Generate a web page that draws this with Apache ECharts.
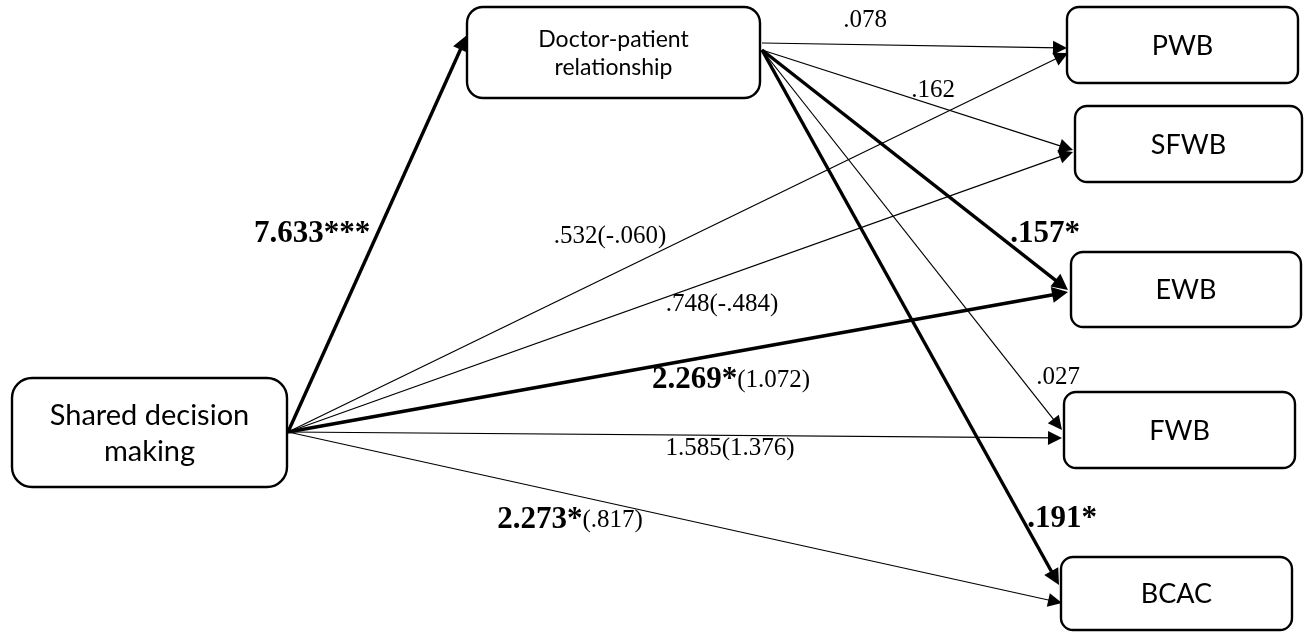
<!DOCTYPE html>
<html>
<head>
<meta charset="utf-8">
<script src="https://cdn.jsdelivr.net/npm/echarts@6/dist/echarts.min.js"></script>
<style>
html,body{margin:0;padding:0;background:#fff;}
#chart{width:1304px;height:632px;}
</style>
</head>
<body>
<div id="chart"></div>
<script>
// ---- data ----
const predictor = 'Shared decision\nmaking';
const mediator = 'Doctor-patient\nrelationship';
const outcomes = ['PWB', 'SFWB', 'EWB', 'FWB', 'BCAC'];
const aPath = '7.633***';
const totalEffect = ['.532', '.748', '2.269*', '1.585', '2.273*'];
const directEffect = ['-.060', '-.484', '1.072', '1.376', '.817'];
const bPath = ['.078', '.162', '.157*', '.027', '.191*'];

// ---- layout (positions / styles) ----
const W = 1304, H = 632;
const boxes = {
  SDM: [12, 378, 287, 487, 20, 29],
  DPR: [467, 7, 760, 98, 16, 23],
  PWB: [1067, 7, 1298, 83, 12, 27],
  SFWB: [1075, 106, 1302, 182, 12, 27],
  EWB: [1071, 252, 1301, 327, 12, 27],
  FWB: [1064, 392, 1295, 468, 12, 27],
  BCAC: [1061, 557, 1292, 630, 12, 27]
};
const sdmOrigin = [288, 432];
const dprOrigin = [762, 50];
const aTip = [467, 35];
const cTips = [[1068, 53], [1073, 152], [1068, 292], [1062, 438], [1062, 603]];
const cWidths = [1.2, 1.2, 3.6, 1.2, 1.2];
const bStarts = [[762, 43], [762, 50], [762, 50], [762, 50], [762, 50]];
const bTips = [[1067, 48], [1073, 150], [1068, 290], [1062, 430], [1059, 585]];
const bWidths = [1.2, 1.2, 3.4, 1.2, 3.4];
const aLabelPos = [312, 234];
const cLabelPos = [[610, 236], [722, 304], [731, 380], [730, 448], [570, 520]];
const bLabelPos = [[865, 20], [933, 90], [1045, 234], [1058, 377], [1062, 519]];

const serif = '"Liberation Serif","Times New Roman",serif';
const sans = 'Lato,"Open Sans",sans-serif';
const REG = 25, BOLD = 31;

function fmtCoef(s) {
  return s.indexOf('*') >= 0 ? '{b|' + s + '}' : '{r|' + s + '}';
}
function shorten(p0, p1, d) {
  const dx = p1[0] - p0[0], dy = p1[1] - p0[1];
  const L = Math.sqrt(dx * dx + dy * dy);
  return [p1[0] - dx / L * d, p1[1] - dy / L * d];
}

// boxes data
const boxNames = ['SDM', 'DPR'].concat(outcomes);
const boxTexts = [predictor, mediator].concat(outcomes);
const boxData = boxNames.map((k, i) => ({ value: boxes[k], name: boxTexts[i] }));

// edges
const edges = [];
function addEdge(p0, p1, w) {
  const AH = w > 2 ? 16 : 14;
  const end = shorten(p0, p1, AH / 2);
  edges.push({ coords: [p0, end], lineStyle: { width: w }, symbolSize: w > 2 ? [13, AH] : [11, AH] });
}
addEdge(sdmOrigin, aTip, 3.4);
outcomes.forEach((o, i) => addEdge(sdmOrigin, cTips[i], cWidths[i]));
outcomes.forEach((o, i) => addEdge(bStarts[i], bTips[i], bWidths[i]));

// labels
const labels = [];
labels.push({ value: aLabelPos, text: fmtCoef(aPath) });
outcomes.forEach((o, i) => {
  labels.push({ value: cLabelPos[i], text: fmtCoef(totalEffect[i]) + '{r|(' + directEffect[i] + ')}' });
  labels.push({ value: bLabelPos[i], text: fmtCoef(bPath[i]) });
});

const chart = echarts.init(document.getElementById('chart'), null, { renderer: 'canvas' });
chart.setOption({
  backgroundColor: '#fff',
  animation: false,
  grid: { left: 0, right: 0, top: 0, bottom: 0 },
  xAxis: { type: 'value', min: 0, max: W, show: false },
  yAxis: { type: 'value', min: 0, max: H, inverse: true, show: false },
  series: [
    {
      type: 'lines',
      coordinateSystem: 'cartesian2d',
      z: 2,
      symbol: ['none', 'triangle'],
      lineStyle: { color: '#000', opacity: 1, curveness: 0 },
      itemStyle: { color: '#000' },
      data: edges
    },
    {
      type: 'custom',
      coordinateSystem: 'cartesian2d',
      z: 3,
      data: boxData,
      renderItem: function (params, api) {
        const d = boxData[params.dataIndex].value;
        const p0 = api.coord([d[0], d[1]]);
        const p1 = api.coord([d[2], d[3]]);
        const name = boxData[params.dataIndex].name;
        return {
          type: 'group',
          children: [
            {
              type: 'rect',
              shape: { x: p0[0], y: p0[1], width: p1[0] - p0[0], height: p1[1] - p0[1], r: d[4] },
              style: { fill: 'rgba(255,255,255,0)', stroke: '#000', lineWidth: 2.4 }
            },
            {
              type: 'text',
              style: {
                text: name,
                x: (p0[0] + p1[0]) / 2,
                y: (p0[1] + p1[1]) / 2 + 1,
                align: 'center',
                verticalAlign: 'middle',
                fontFamily: sans,
                fontSize: d[5],
                lineHeight: d[5] * 1.25,
                fill: '#000'
              }
            }
          ]
        };
      }
    },
    {
      type: 'custom',
      coordinateSystem: 'cartesian2d',
      z: 4,
      data: labels,
      renderItem: function (params, api) {
        const l = labels[params.dataIndex];
        const p = api.coord(l.value);
        return {
          type: 'text',
          style: {
            text: l.text,
            x: p[0],
            y: p[1],
            align: 'center',
            verticalAlign: 'middle',
            rich: {
              b: { fontFamily: serif, fontWeight: 'bold', fontSize: BOLD, fill: '#000' },
              r: { fontFamily: serif, fontSize: REG, fill: '#000' }
            }
          }
        };
      }
    }
  ]
});
</script>
</body>
</html>
